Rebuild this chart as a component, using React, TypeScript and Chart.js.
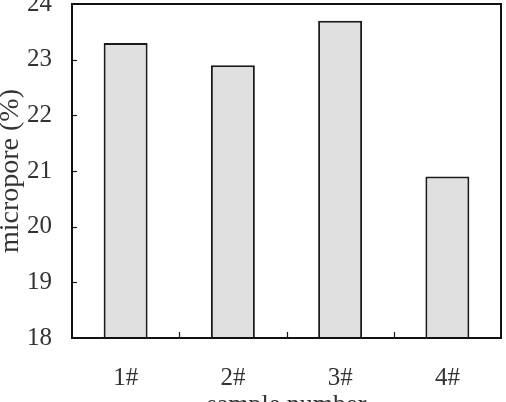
import React, { useEffect, useRef } from "react";
import { Chart, registerables } from "chart.js";

Chart.register(...registerables);

const categories = ["1#", "2#", "3#", "4#"];
const microporeValues = [23.3, 22.9, 23.7, 20.9];
const yMin = 18;
const yMax = 24;
const xTitle = "sample number";
const yTitle = "micropore (%)";

const FONT = "'Liberation Serif', 'DejaVu Serif', serif";

const frameAndTicks = {
  id: "frameAndTicks",
  afterDraw(chart: any) {
    const { ctx, chartArea } = chart;
    const { left, right, top, bottom } = chartArea;
    const xs = chart.scales.x;
    const ys = chart.scales.y;
    ctx.save();
    ctx.strokeStyle = "#1a1a1a";
    ctx.lineWidth = 1.2;
    ys.ticks.forEach((t: any) => {
      if (t.value <= yMin || t.value >= yMax) return;
      const y = Math.round(ys.getPixelForValue(t.value)) + 0.5;
      ctx.beginPath();
      ctx.moveTo(left, y);
      ctx.lineTo(left + 5, y);
      ctx.stroke();
    });
    for (let i = 0; i < categories.length - 1; i++) {
      const x = Math.round((xs.getPixelForValue(i) + xs.getPixelForValue(i + 1)) / 2) + 0.5;
      ctx.beginPath();
      ctx.moveTo(x, bottom);
      ctx.lineTo(x, bottom - 6);
      ctx.stroke();
    }
    ctx.lineWidth = 2;
    ctx.strokeStyle = "#111";
    ctx.strokeRect(left, top, right - left, bottom - top);
    ctx.restore();
  },
};

export default function App() {
  const ref = useRef<HTMLCanvasElement | null>(null);
  useEffect(() => {
    document.body.style.margin = "0";
    const chart = new Chart(ref.current as HTMLCanvasElement, {
      type: "bar",
      data: {
        labels: categories,
        datasets: [
          {
            data: microporeValues,
            backgroundColor: "#e0e0e0",
            borderColor: "#1a1a1a",
            borderWidth: 2,
            categoryPercentage: 1,
            barPercentage: 0.41,
          },
        ],
      },
      options: {
        responsive: false,
        animation: false,
        devicePixelRatio: 1,
        layout: { padding: { top: 4, right: 5, left: 0, bottom: 0 } },
        plugins: { legend: { display: false }, tooltip: { enabled: false } },
        scales: {
          x: {
            grid: { display: false, drawTicks: false },
            border: { display: false },
            ticks: {
              padding: 25,
              color: "#333",
              font: { family: FONT, size: 25 },
            },
            title: {
              display: true,
              text: xTitle,
              color: "#333",
              font: { family: FONT, size: 26 },
              padding: { top: 0, bottom: -19 },
            },
            afterFit: (s: any) => {
              s.height = 64;
              s.paddingLeft = 0;
              s.paddingRight = 0;
            },
          },
          y: {
            min: yMin,
            max: yMax,
            grid: { display: false, drawTicks: false },
            border: { display: false },
            ticks: {
              stepSize: 1,
              padding: 20,
              color: "#333",
              font: { family: FONT, size: 25 },
            },
            title: {
              display: true,
              text: yTitle,
              color: "#333",
              font: { family: FONT, size: 28 },
              padding: { top: -6, bottom: 0 },
            },
            afterFit: (s: any) => {
              s.width = 72;
              s.paddingTop = 0;
              s.paddingBottom = 0;
            },
          },
        },
      },
      plugins: [frameAndTicks],
    });
    return () => chart.destroy();
  }, []);
  return (
    <div style={{ position: "absolute", left: 0, top: 0, width: 506, height: 402 }}>
      <canvas ref={ref} width={506} height={402} />
    </div>
  );
}
